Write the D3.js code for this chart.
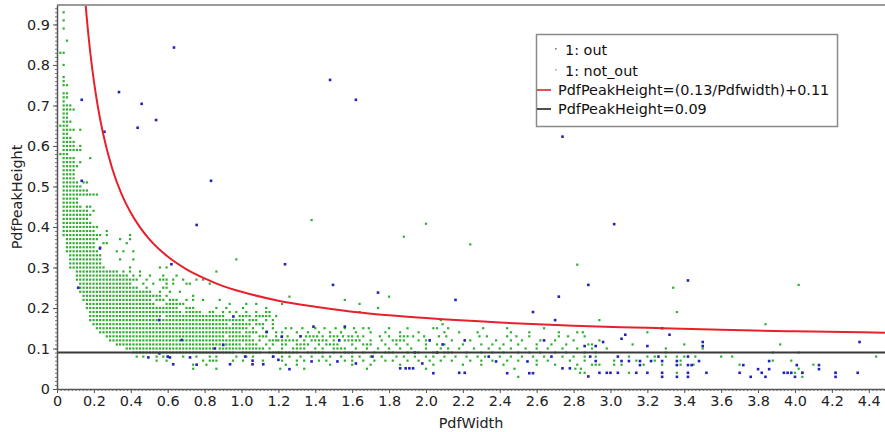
<!DOCTYPE html>
<html>
<head>
<meta charset="utf-8">
<script src="https://cdnjs.cloudflare.com/ajax/libs/d3/7.8.5/d3.min.js"></script>
<style>
body { margin: 0; background: #fff; }
svg { display: block; font-family: "DejaVu Sans", sans-serif; }
</style>
</head>
<body>
<div id="chart"></div>
<script>
// tick labels and legend texts
var xTicks = [0, 0.2, 0.4, 0.6, 0.8, 1.0, 1.2, 1.4, 1.6, 1.8, 2.0, 2.2, 2.4, 2.6, 2.8, 3.0, 3.2, 3.4, 3.6, 3.8, 4.0, 4.2, 4.4];
var yTicks = [0, 0.1, 0.2, 0.3, 0.4, 0.5, 0.6, 0.7, 0.8, 0.9];
var legendLabels = ["1: out", "1: not_out", "PdfPeakHeight=(0.13/Pdfwidth)+0.11", "PdfPeakHeight=0.09"];

// not_out points in the dense part, read row by row: [height, [width from, width to], ...]
// widths sit on the 0.018 grid of the data
var notOutRuns = [
    [0.93, [0.036]], [0.91, [0.036]], [0.89, [0.036]], [0.86, [0.054]],
    [0.83, [0.018, 0.036]], [0.80, [0.036]], [0.77, [0.036]], [0.76, [0.036]],
    [0.75, [0.036, 0.054]], [0.73, [0.036, 0.054]], [0.72, [0.036], [0.054]], [0.71, [0.036]],
    [0.70, [0.036, 0.054], [0.072]], [0.69, [0.036, 0.09]], [0.68, [0.036, 0.054]], [0.67, [0.036, 0.054]],
    [0.66, [0.036, 0.072]], [0.65, [0.018], [0.036, 0.054]], [0.64, [0.036, 0.09], [0.126]], [0.63, [0.036, 0.054]],
    [0.62, [0.036, 0.072]], [0.61, [0.036, 0.09]], [0.60, [0.036, 0.09], [0.126]], [0.59, [0.036, 0.108], [0.126]],
    [0.58, [0.018, 0.054]], [0.57, [0.036, 0.09], [0.18]], [0.56, [0.036, 0.09], [0.126]], [0.55, [0.036, 0.108]],
    [0.54, [0.036, 0.09]], [0.53, [0.036, 0.09]], [0.52, [0.036, 0.09]], [0.51, [0.036, 0.108], [0.144, 0.162]],
    [0.50, [0.036, 0.126]], [0.49, [0.036, 0.162]], [0.48, [0.036, 0.162], [0.18, 0.216]], [0.47, [0.036, 0.108]],
    [0.46, [0.036, 0.108]], [0.45, [0.036, 0.108], [0.126], [0.162, 0.18]], [0.44, [0.036, 0.162], [0.198]],
    [0.43, [0.036, 0.18]], [0.42, [0.036, 0.162]], [0.41, [0.036, 0.18]], [0.40, [0.036, 0.198], [0.216]],
    [0.39, [0.036, 0.198], [0.27]], [0.38, [0.036, 0.198], [0.216, 0.234], [0.27], [0.396]],
    [0.37, [0.054, 0.162], [0.18, 0.216], [0.342], [0.396]], [0.36, [0.054, 0.198], [0.252, 0.27], [0.378]],
    [0.35, [0.054, 0.198], [0.234]], [0.34, [0.054, 0.216], [0.324], [0.36], [0.414]],
    [0.33, [0.072, 0.234]], [0.32, [0.072, 0.234], [0.342], [0.414], [0.972]], [0.31, [0.072, 0.234]],
    [0.30, [0.072, 0.252], [0.396], [0.558], [0.594]],
    [0.29, [0.108, 0.324], [0.36], [0.396], [0.45], [0.864]],
    [0.28, [0.108, 0.378], [0.414], [0.45], [0.504], [0.576], [0.648]],
    [0.27, [0.108, 0.432], [0.486], [0.558, 0.594], [0.63], [0.684], [0.756], [0.792]],
    [0.26, [0.126, 0.396], [0.468], [0.522], [0.594], [0.63], [0.702], [0.72], [0.828]],
    [0.25, [0.126, 0.432], [0.486], [0.576], [0.594]],
    [0.24, [0.126, 0.504], [0.558], [0.612], [0.666]],
    [0.23, [0.144, 0.558], [0.594], [0.738]],
    [0.22, [0.144, 0.504], [0.54, 0.576], [0.612, 0.648], [0.702], [0.738], [0.792], [0.882]],
    [0.21, [0.162, 0.522], [0.594, 0.684], [0.936], [1.026], [1.08]],
    [0.20, [0.162, 0.648], [0.702, 0.738], [0.864], [0.918], [1.008], [1.134]],
    [0.19, [0.18, 0.666], [0.702, 0.774], [0.828, 0.846], [0.9], [0.936], [0.972], [1.026], [1.08], [1.134], [1.152]],
    [0.18, [0.18, 0.558], [0.594, 0.9], [0.99, 1.044], [1.08, 1.134], [1.152], [1.188]],
    [0.17, [0.18, 0.54], [0.576, 0.918], [0.936, 1.0], [1.044, 1.08], [1.134], [1.17]],
    [0.16, [0.198, 0.918], [0.954, 1.044], [1.08, 1.116], [1.17]],
    [0.15, [0.216, 0.882], [0.9, 1.026], [1.062], [1.116], [1.17]],
    [0.14, [0.234, 0.99], [1.026, 1.08], [1.134], [1.188]],
    [0.13, [0.27, 0.9], [0.936, 1.044], [1.098, 1.134], [1.188]],
    [0.12, [0.288, 1.062], [1.098], [1.152, 1.188]],
    [0.11, [0.324, 0.99], [1.026, 1.08], [1.134], [1.17]],
    [0.10, [0.378, 0.846], [0.882, 1.116], [1.152]],
    [0.09, [0.414, 0.954], [1.0, 1.098], [1.152, 1.2]],
    [0.08, [0.432], [0.468], [0.54], [0.576], [0.684], [0.756], [0.828], [0.864], [0.972], [1.026], [1.062], [1.17]],
    [0.07, [0.54], [0.594], [0.792], [0.828, 0.864], [0.954], [1.008], [1.116]],
    [0.06, [0.738], [0.81]],
    [0.05, [0.738], [0.864]]
];

// not_out points in the sparse part: [height, [widths]]
var notOutRows = [
    [0.417, [1.38]], [0.408, [2.0]], [0.376, [1.88]], [0.357, [2.24]], [0.307, [2.82]],
    [0.257, [4.02]], [0.25, [3.34]], [0.228, [1.26, 1.8]], [0.22, [1.56]], [0.21, [1.22, 1.64]],
    [0.2, [1.74]], [0.19, [1.64, 3.36]], [0.17, [2.08, 2.94]], [0.16, [2.09, 3.84]],
    [0.15, [1.24, 1.27, 1.33, 1.4, 1.45, 1.51, 1.56, 1.61, 1.66, 1.69, 1.8, 1.9, 2.04, 2.06, 2.12, 2.31, 2.44, 2.64]],
    [0.14, [1.22, 1.3, 1.36, 1.42, 1.48, 1.54, 1.62, 1.7, 1.78, 1.86, 1.96, 2.1, 2.18, 2.28, 2.46, 2.56, 2.72, 2.82, 2.85, 3.2]],
    [0.13, [1.22, 1.25, 1.35, 1.37, 1.39, 1.41, 1.44, 1.48, 1.5, 1.52, 1.55, 1.58, 1.6, 1.63, 1.66, 1.75, 1.8, 1.86, 1.88, 1.9, 1.93, 1.99, 2.07, 2.11, 2.29, 2.33, 2.44, 2.49, 2.56, 2.72, 2.77, 2.86]],
    [0.12, [1.2, 1.22, 1.24, 1.26, 1.28, 1.3, 1.34, 1.38, 1.4, 1.42, 1.44, 1.46, 1.5, 1.56, 1.58, 1.6, 1.62, 1.64, 1.7, 1.76, 1.82, 1.84, 1.86, 1.88, 1.96, 2.0, 2.14, 2.24, 2.38, 2.46, 2.52, 2.62, 2.7, 2.8, 2.94]],
    [0.11, [1.22, 1.24, 1.3, 1.32, 1.34, 1.36, 1.42, 1.46, 1.48, 1.5, 1.52, 1.6, 1.66, 1.68, 1.7, 1.78, 1.84, 1.9, 2.0, 2.06, 2.1, 2.2, 2.3, 2.36, 2.42, 2.5, 2.6, 2.68, 2.76, 2.88, 2.9, 3.12, 3.4, 3.92]],
    [0.10, [1.22, 1.28, 1.3, 1.32, 1.34, 1.4, 1.44, 1.5, 1.52, 1.54, 1.56, 1.62, 1.68, 1.74, 1.8, 1.86, 1.92, 2.0, 2.08, 2.12, 2.18, 2.26, 2.34, 2.4, 2.46, 2.54, 2.6, 2.66, 2.74, 2.82, 2.9, 2.98, 3.3, 3.5]],
    [0.09, [1.2, 1.22, 1.24, 1.26, 1.28, 1.3, 1.36, 1.38, 1.4, 1.42, 1.44, 1.5, 1.56, 1.58, 1.6, 1.66, 1.72, 1.78, 1.8, 1.82, 1.9, 1.96, 2.04, 2.1, 2.12, 2.14, 2.22, 2.3, 2.36, 2.42, 2.5, 2.56, 2.62, 2.7, 2.76, 2.86, 2.92, 3.3, 3.88, 4.02]],
    [0.08, [1.22, 1.26, 1.32, 1.38, 1.44, 1.48, 1.54, 1.6, 1.64, 1.7, 1.76, 1.84, 1.88, 1.94, 2.0, 2.04, 2.1, 2.16, 2.22, 2.28, 2.32, 2.4, 2.46, 2.52, 2.58, 2.64, 2.74, 2.8, 2.86, 2.92, 3.1, 3.2, 3.24, 3.3, 3.36, 3.4, 3.46, 3.6, 3.66, 4.44]],
    [0.07, [1.22, 1.3, 1.34, 1.42, 1.46, 1.56, 1.6, 1.66, 1.72, 1.78, 1.82, 1.9, 1.96, 2.02, 2.08, 2.14, 2.24, 2.3, 2.36, 2.44, 2.5, 2.6, 2.66, 2.78, 2.86, 3.02, 3.14, 3.24, 3.38, 3.88, 3.98]],
    [0.06, [1.24, 1.3, 1.48, 1.6, 1.7, 1.86, 2.04, 2.2, 2.3, 2.42, 2.6, 2.7, 2.82, 2.9, 2.92, 2.94, 3.02, 3.06, 3.18, 3.28, 3.38, 3.45, 3.7, 4.1]],
    [0.05, [1.21, 1.34, 1.68, 2.0, 2.48, 2.81, 2.84, 4.02]],
    [0.04, [2.835, 2.86, 3.1, 3.36, 4.0, 4.04, 4.22]],
    [0.03, [2.5, 4.04]]
];

// out points: [width, height]
var outPoints = [
    [0.134, 0.714], [0.336, 0.733], [0.459, 0.704], [0.437, 0.645], [0.537, 0.664], [0.257, 0.635],
    [0.634, 0.843], [0.835, 0.514], [0.134, 0.514], [1.48, 0.763], [1.62, 0.714], [2.74, 0.623],
    [0.757, 0.405], [0.233, 0.347], [0.62, 0.308], [0.115, 0.25], [1.236, 0.308], [1.496, 0.257],
    [1.74, 0.238], [3.02, 0.407], [3.42, 0.268], [2.88, 0.257], [2.72, 0.228], [2.16, 0.22],
    [2.58, 0.19], [2.7, 0.17],
    [0.555, 0.17], [0.956, 0.179], [1.137, 0.141], [1.218, 0.129], [0.676, 0.121], [0.901, 0.109],
    [0.856, 0.1], [0.555, 0.088], [0.6, 0.08], [0.63, 0.061], [0.757, 0.06], [0.938, 0.061],
    [1.02, 0.08], [1.06, 0.07], [1.06, 0.061], [1.118, 0.061], [1.172, 0.08], [1.2, 0.072],
    [1.26, 0.049], [0.495, 0.078], [0.612, 0.078], [0.721, 0.078],
    [1.39, 0.154], [1.56, 0.154], [1.32, 0.13], [1.53, 0.12], [2.02, 0.12], [2.21, 0.12], [2.64, 0.12],
    [1.38, 0.068], [1.52, 0.068], [1.62, 0.063], [1.71, 0.08], [1.98, 0.063], [2.04, 0.039],
    [1.94, 0.09], [2.06, 0.09], [2.09, 0.11], [2.34, 0.08], [2.38, 0.068], [2.44, 0.039],
    [2.55, 0.068], [2.56, 0.039], [2.58, 0.039], [2.68, 0.08], [2.74, 0.051], [2.78, 0.051],
    [2.88, 0.031], [1.86, 0.051], [1.89, 0.051], [1.91, 0.051], [1.93, 0.051], [2.18, 0.04], [2.21, 0.04],
    [3.28, 0.15], [3.32, 0.134], [3.08, 0.134], [3.06, 0.124], [2.96, 0.116], [3.5, 0.116],
    [3.5, 0.106], [4.35, 0.116], [3.2, 0.106], [2.86, 0.106], [2.92, 0.106],
    [2.89, 0.08], [3.04, 0.08], [3.26, 0.08], [3.42, 0.08],
    [2.92, 0.069], [3.06, 0.069], [3.1, 0.069], [3.16, 0.069], [3.22, 0.069], [3.28, 0.069],
    [3.36, 0.069], [3.48, 0.069], [3.86, 0.069],
    [3.16, 0.059], [3.36, 0.059], [3.42, 0.059], [3.44, 0.059], [3.72, 0.059], [4.01, 0.059], [4.13, 0.059],
    [3.8, 0.049], [3.86, 0.049], [4.13, 0.049],
    [2.94, 0.04], [2.98, 0.04], [3.0, 0.04], [3.04, 0.04], [3.14, 0.04], [3.2, 0.04], [3.28, 0.04],
    [3.42, 0.04], [3.52, 0.04], [3.7, 0.04], [3.82, 0.04], [3.94, 0.04], [3.96, 0.04], [3.98, 0.04],
    [4.04, 0.04], [4.22, 0.04], [4.34, 0.04],
    [3.28, 0.03], [3.36, 0.03], [3.42, 0.03], [3.76, 0.03], [3.84, 0.03], [4.0, 0.03], [4.22, 0.03]
];

// red threshold curve, points read along it: [width, height]
var curvePoints = [
    [0.15, 0.977], [0.16, 0.923], [0.18, 0.832], [0.2, 0.76], [0.22, 0.701], [0.25, 0.63],
    [0.3, 0.543], [0.35, 0.481], [0.4, 0.435], [0.45, 0.399], [0.5, 0.37], [0.6, 0.327],
    [0.7, 0.296], [0.8, 0.273], [0.9, 0.254], [1.0, 0.24], [1.2, 0.218], [1.4, 0.203],
    [1.6, 0.191], [1.8, 0.182], [2.0, 0.175], [2.4, 0.164], [2.8, 0.156], [3.2, 0.151],
    [3.6, 0.146], [4.0, 0.1425], [4.5, 0.139]
];
var cutoffHeight = 0.09;
var gridStep = 0.018;


var W = 885, H = 432;
var x = d3.scaleLinear().domain([0, 4.488]).range([57, 885]);
var y = d3.scaleLinear().domain([0, 0.948]).range([389, 5]);

function fmt(v) {
    return v === 0 ? "0" : v.toFixed(1);
}

var svg = d3.select("#chart").append("svg")
            .attr("width", W)
            .attr("height", H);

svg.append("defs").append("clipPath")
   .attr("id", "plotClip")
   .append("rect")
   .attr("x", 57).attr("y", 5)
   .attr("width", 885 - 57).attr("height", 389 - 5);

// expand the runs onto the grid
var notOut = [];
notOutRuns.forEach(function(row) {
    for (var i = 1; i < row.length; i++) {
        var a = Math.round(row[i][0] / gridStep);
        var b = Math.round(row[i][row[i].length - 1] / gridStep);
        for (var k = a; k <= b; k++) notOut.push([k * gridStep, row[0]]);
    }
});
notOutRows.forEach(function(row) {
    row[1].forEach(function(w) { notOut.push([w, row[0]]); });
});

var plot = svg.append("g").attr("clip-path", "url(#plotClip)");

plot.selectAll("rect.notout")
    .data(notOut)
    .enter().append("rect")
    .attr("class", "notout")
    .attr("x", function(d) { return x(d[0]) - 1.1; })
    .attr("y", function(d) { return y(d[1]) - 1.1; })
    .attr("width", 2.2)
    .attr("height", 2.2)
    .attr("fill", "#30ae30");

plot.selectAll("rect.out")
    .data(outPoints)
    .enter().append("rect")
    .attr("class", "out")
    .attr("x", function(d) { return x(d[0]) - 1.3; })
    .attr("y", function(d) { return y(d[1]) - 1.3; })
    .attr("width", 2.6)
    .attr("height", 2.6)
    .attr("fill", "#2222b8");

plot.append("line")
    .attr("x1", x(0)).attr("x2", 885)
    .attr("y1", y(cutoffHeight)).attr("y2", y(cutoffHeight))
    .attr("stroke", "#3a3a3a")
    .attr("stroke-width", 2);

var curve = d3.line()
    .x(function(d) { return x(d[0]); })
    .y(function(d) { return y(d[1]); })
    .curve(d3.curveMonotoneX);

plot.append("path")
    .datum(curvePoints)
    .attr("d", curve)
    .attr("fill", "none")
    .attr("stroke", "#e8202c")
    .attr("stroke-width", 2);

// frame
svg.append("line")
   .attr("x1", 57).attr("x2", 885)
   .attr("y1", 5).attr("y2", 5)
   .attr("stroke", "#9a9a9a")
   .attr("stroke-width", 2);

// minor ticks
svg.append("g")
   .attr("transform", "translate(0,389)")
   .call(d3.axisBottom(x).tickValues(d3.range(0, 4.48, 0.02)).tickSize(2).tickSizeOuter(0).tickFormat(""))
   .call(function(g) { g.select(".domain").remove(); g.selectAll("line").attr("stroke", "#777"); });
svg.append("g")
   .attr("transform", "translate(57,0)")
   .call(d3.axisLeft(y).tickValues(d3.range(0, 0.945, 0.01)).tickSize(2).tickSizeOuter(0).tickFormat(""))
   .call(function(g) { g.select(".domain").remove(); g.selectAll("line").attr("stroke", "#777"); });

var xAxisG = svg.append("g")
   .attr("transform", "translate(0,389)")
   .call(d3.axisBottom(x).tickValues(xTicks).tickSize(4).tickSizeOuter(0).tickFormat(fmt));
var yAxisG = svg.append("g")
   .attr("transform", "translate(57,0)")
   .call(d3.axisLeft(y).tickValues(yTicks).tickSize(4).tickSizeOuter(0).tickFormat(fmt));

[xAxisG, yAxisG].forEach(function(g) {
    g.select(".domain").attr("stroke", "#555").attr("stroke-width", 1.5);
    g.selectAll("line").attr("stroke", "#555");
    g.selectAll("text")
     .attr("font-family", "DejaVu Sans, sans-serif")
     .attr("font-size", "14.4px")
     .attr("fill", "#222");
});

svg.append("text")
   .attr("x", 471).attr("y", 428)
   .attr("text-anchor", "middle")
   .attr("font-size", "14.4px")
   .attr("fill", "#222")
   .text("PdfWidth");

svg.append("text")
   .attr("transform", "translate(22,197) rotate(-90)")
   .attr("text-anchor", "middle")
   .attr("font-size", "14.4px")
   .attr("fill", "#222")
   .text("PdfPeakHeight");

// legend
var legend = svg.append("g");
legend.append("rect")
      .attr("x", 536.5).attr("y", 34.5)
      .attr("width", 301).attr("height", 92)
      .attr("fill", "#fff")
      .attr("stroke", "#8a8a8a")
      .attr("stroke-width", 1.5);

var legendRows = [
    {label: legendLabels[0], kind: "dot", color: "#7a7aaa", cy: 50, tx: 565},
    {label: legendLabels[1], kind: "dot", color: "#8aba8a", cy: 71, tx: 565},
    {label: legendLabels[2], kind: "line", color: "#e8202c", cy: 90, tx: 558},
    {label: legendLabels[3], kind: "line", color: "#222", cy: 109, tx: 558}
];

legendRows.forEach(function(r) {
    if (r.kind === "dot") {
        legend.append("rect")
              .attr("x", 555).attr("y", r.cy - 2)
              .attr("width", 1.6).attr("height", 1.6)
              .attr("fill", r.color);
    } else {
        legend.append("line")
              .attr("x1", 537).attr("x2", 551)
              .attr("y1", r.cy).attr("y2", r.cy)
              .attr("stroke", r.color)
              .attr("stroke-width", 1.6);
    }
    legend.append("text")
          .attr("x", r.tx).attr("y", r.cy + 5)
          .attr("font-size", "14.4px")
          .attr("fill", "#111")
          .text(r.label);
});
</script>
</body>
</html>
